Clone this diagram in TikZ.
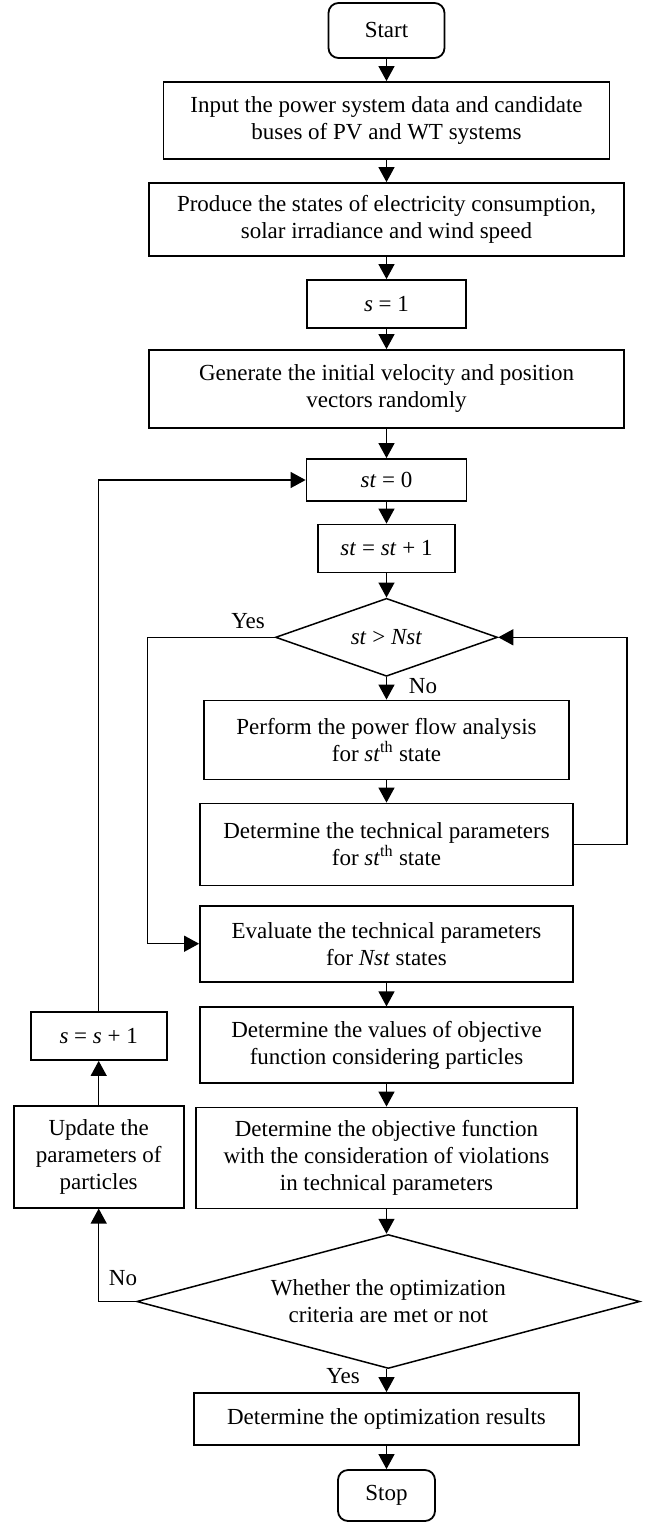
\documentclass[tikz,border=0pt]{standalone}
\usepackage{fontspec}
\setmainfont{Liberation Serif}
\usetikzlibrary{arrows.meta}
\usetikzlibrary{shapes.geometric}

\begin{document}
\begin{tikzpicture}[x=1pt,y=-1pt]

  \tikzset{
    box/.style={draw,line width=1.8pt,inner sep=0pt,align=center,
      font=\fontsize{23}{27}\selectfont},
    term/.style={box,rounded corners=10pt},
    decide/.style={diamond,draw,line width=1.5pt,inner sep=0pt,align=center,
      font=\fontsize{23}{27}\selectfont},
    arr/.style={line width=1.3pt,-{Triangle[length=15pt,width=16pt]}},
    lbl/.style={font=\fontsize{23}{27}\selectfont},
  }
  \useasboundingbox (0,0) rectangle (651,1522);
  %MAIN COLUMN
  \node[term,minimum width=116pt,minimum height=55pt] (start) at (386.5,30.5) {Start};
  \node[box,minimum width=446pt,minimum height=77pt] (input) at (386.5,120.5)
    {Input the power system data and candidate\\buses of PV and WT systems};
  \node[box,minimum width=475pt,minimum height=73pt] (produce) at (386.5,219.5)
    {Produce the states of electricity consumption,\\solar irradiance and wind speed};
  \node[box,minimum width=159pt,minimum height=48pt] (s1) at (386.5,304) {\textit{s} = 1};
  \node[box,minimum width=475pt,minimum height=78pt] (generate) at (386.5,389)
    {Generate the initial velocity and position\\vectors randomly};
  \node[box,minimum width=160pt,minimum height=42pt] (st0) at (386.5,480) {\textit{st} = 0};
  \node[box,minimum width=137pt,minimum height=48pt] (stinc) at (386.5,548.5)
    {\textit{st} = \textit{st} + 1};
  \node[decide,aspect=2.85,minimum width=222pt,minimum height=78pt] (dec1) at (386.5,637.3)
    {\textit{st} > \textit{Nst}};
  \node[box,minimum width=365pt,minimum height=79pt] (perform) at (386.5,740)
    {Perform the power flow analysis\\for \textit{st}\textsuperscript{th} state};
  \node[box,minimum width=373pt,minimum height=82pt] (dettech) at (386.5,844.5)
    {Determine the technical parameters\\for \textit{st}\textsuperscript{th} state};
  \node[box,minimum width=373pt,minimum height=76pt] (evaluate) at (386.5,943.7)
    {Evaluate the technical parameters\\for \textit{Nst} states};
  \node[box,minimum width=373pt,minimum height=76pt] (detval) at (386.5,1045.3)
    {Determine the values of objective\\function considering particles};
  \node[box,minimum width=381pt,minimum height=101pt] (detobj) at (386.5,1158)
    {Determine the objective function\\with the consideration of violations\\in technical parameters};
  \node[decide,aspect=3.75,minimum width=503pt,minimum height=134pt] (dec2) at (388.3,1301.5)
    {Whether the optimization\\criteria are met or not};
  \node[box,minimum width=385pt,minimum height=52pt] (results) at (386.5,1419)
    {Determine the optimization results};
  \node[term,minimum width=97pt,minimum height=51pt] (stop) at (386.5,1495.5) {Stop};
  %LEFT COLUMN
  \node[box,minimum width=136pt,minimum height=48pt] (sinc) at (98.7,1036)
    {\textit{s} = \textit{s} + 1};
  \node[box,minimum width=170pt,minimum height=102pt] (update) at (98.7,1156.7)
    {Update the\\parameters of\\particles};
  %LABELS
  \node[lbl] (yes1) at (248,621) {Yes};
  \node[lbl] (no1) at (423,686) {No};
  \node[lbl] (no2) at (123,1278) {No};
  \node[lbl] (yes2) at (343,1376) {Yes};
  %ARROWS
  \draw[arr] (start) -- (input);
  \draw[arr] (input) -- (produce);
  \draw[arr] (produce) -- (s1);
  \draw[arr] (s1) -- (generate);
  \draw[arr] (generate) -- (st0);
  \draw[arr] (st0) -- (stinc);
  \draw[arr] (stinc) -- (dec1);
  \draw[arr] (dec1) -- (perform);
  \draw[arr] (perform) -- (dettech);
  \draw[arr] (evaluate) -- (detval);
  \draw[arr] (detval) -- (detobj);
  \draw[arr] (detobj) -- (detobj |- dec2.north);
  \draw[arr] (results |- dec2.south) -- (results);
  \draw[arr] (results) -- (stop);
  %LOOPS
  \draw[arr] (dettech.east) -- ++(53,0) |- (dec1.east);
  \draw[arr] (dec1.west) -- ++(-127,0) |- (evaluate.west);
  \draw[arr] (sinc.north) |- (st0.west);
  \draw[arr] (dec2.west) -| (update.south);
  \draw[arr] (update) -- (sinc);
\end{tikzpicture}
\end{document}
